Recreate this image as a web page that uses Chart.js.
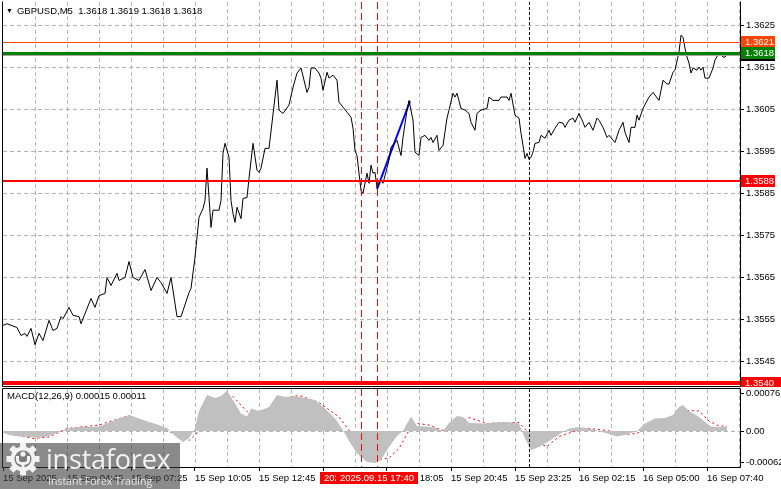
<!DOCTYPE html>
<html>
<head>
<meta charset="utf-8">
<script src="https://cdn.jsdelivr.net/npm/chart.js@4.4.1/dist/chart.umd.min.js"></script>
<style>
  body { margin: 0; background: #fff; width: 781px; height: 489px; overflow: hidden; position: relative; font-family: "Liberation Sans", Arial, sans-serif; }
  canvas { position: absolute; left: 0; }
  #main { top: 0; }
  #macd { top: 387px; }
  .label { position: absolute; font-size: 9.5px; color: #000; white-space: pre; }
  #title { left: 6px; top: 5px; }
  #title span { font-size: 7px; margin-right: 4px; vertical-align: 1px; }
  #macdTitle { left: 7px; top: 390px; }
  #logo { position: absolute; left: 0; top: 443px; width: 180px; height: 46px; background: rgba(60,60,60,0.6); color: #f2f2f2; }
  #logo .big { position: absolute; left: 46px; top: 1px; font-family: "Open Sans", sans-serif; font-size: 27px; line-height: 30px; letter-spacing: -0.2px; }
  #logo .small { position: absolute; left: 48px; top: 32px; font-family: "Open Sans", sans-serif; font-size: 10.5px; line-height: 12px; color: #e6e6e6; }
  #logo svg { position: absolute; left: 6px; top: -1px; }
</style>
</head>
<body>
<canvas id="main" width="781" height="387"></canvas>
<canvas id="macd" width="781" height="102"></canvas>
<div class="label" id="title"><span>▼</span>GBPUSD,M5  1.3618 1.3619 1.3618 1.3618</div>
<div class="label" id="macdTitle">MACD(12,26,9) 0.00015 0.00011</div>
<div id="logo">
  <svg width="34" height="34" viewBox="0 0 34 34">
    <g fill="#f2f2f2">
      <circle cx="17" cy="17" r="12.5"/>
      <rect x="14" y="0.5" width="6" height="6"/>
      <rect x="14" y="27.5" width="6" height="6"/>
      <rect x="0.5" y="14" width="6" height="6"/>
      <rect x="27.5" y="14" width="6" height="6"/>
      <g transform="rotate(45 17 17)">
        <rect x="14" y="0.5" width="6" height="6"/>
        <rect x="14" y="27.5" width="6" height="6"/>
        <rect x="0.5" y="14" width="6" height="6"/>
        <rect x="27.5" y="14" width="6" height="6"/>
      </g>
    </g>
    <circle cx="17" cy="17" r="8.5" fill="#7c7c7c"/>
    <g fill="#f2f2f2">
      <circle cx="17" cy="12" r="2.6"/>
      <path d="M10 14 h3 v4 q0 2 4 2 q4 0 4 -2 v-4 h3 v4 q0 4 -5.5 5 v9 h-3 v-9 q-5.5 -1 -5.5 -5 z"/>
    </g>
  </svg>
  <div class="big">instaforex</div>
  <div class="small">Instant Forex Trading</div>
</div>
<script>
// GBPUSD M5 close prices, x = bar number from the left edge
const priceBars = [0,2,7,9,11,12,14,16,18,20,23,25,27,29,30,33,35,38,39,44,46,48,51,52,54,57,58,61,63,65,68,71,74,77,79,82,84,87,89,90,93,94,96,98,100,101,102,103,104,105,108,109,110,111,113,114,115,116,117,119,120,122,123,125,127,128,129,131,133,137,138,140,143,145,147,149,152,153,154,156,158,159,160,162,163,165,167,168,170,172,174,175,176,177,178,179,180,182,183,184,185,186,187,189,190,193,194,197,199,200,202,203,205,206,208,209,211,213,214,215,217,218,220,222,223,225,226,227,229,231,233,234,236,237,239,242,243,245,248,249,252,253,254,256,258,259,260,261,262,263,264,265,266,268,269,271,273,274,276,278,280,281,283,285,286,288,290,291,293,295,297,298,300,302,303,306,308,310,311,313,314,316,317,318,320,323,325,328,329,330,332,333,335,336,338,339,340,341,342,343,344,345,347,348,349,350,351,353,355,356,358,359,360,361,362]
const priceClose = [1.35536,1.35540,1.35531,1.35512,1.35517,1.35510,1.35529,1.35490,1.35517,1.35500,1.35548,1.35524,1.35529,1.35557,1.35552,1.35579,1.35560,1.35557,1.35540,1.35600,1.35579,1.35607,1.35612,1.35650,1.35631,1.35660,1.35643,1.35650,1.35688,1.35650,1.35643,1.35669,1.35619,1.35650,1.35638,1.35612,1.35650,1.35557,1.35557,1.35571,1.35614,1.35624,1.35698,1.35793,1.35814,1.35833,1.35910,1.35840,1.35769,1.35810,1.35810,1.35833,1.35945,1.35969,1.35936,1.35833,1.35802,1.35781,1.35817,1.35790,1.35838,1.35840,1.35886,1.35969,1.35905,1.35900,1.35910,1.35957,1.35957,1.36119,1.36048,1.36040,1.36060,1.36102,1.36136,1.36148,1.36090,1.36102,1.36148,1.36148,1.36136,1.36124,1.36095,1.36138,1.36124,1.36131,1.36119,1.36067,1.36055,1.36043,1.36031,1.36005,1.35952,1.35940,1.35898,1.35857,1.35850,1.35898,1.35874,1.35917,1.35898,1.35900,1.35864,1.35881,1.35874,1.35929,1.35960,1.35976,1.35940,1.35983,1.36048,1.36071,1.36024,1.35948,1.35940,1.35983,1.35988,1.35976,1.35983,1.35971,1.35988,1.35952,1.35964,1.36029,1.36048,1.36088,1.36079,1.36088,1.36052,1.36048,1.36040,1.36019,1.36000,1.36040,1.36048,1.36052,1.36079,1.36071,1.36071,1.36079,1.36079,1.36071,1.36088,1.36036,1.36029,1.35993,1.35964,1.35933,1.35945,1.35931,1.35936,1.35948,1.35969,1.35971,1.35988,1.35981,1.36000,1.35988,1.36005,1.36019,1.36017,1.36007,1.36024,1.36029,1.36019,1.36040,1.36019,1.36007,1.36019,1.36000,1.36029,1.36024,1.36007,1.35983,1.35988,1.35971,1.36000,1.36019,1.35995,1.35971,1.36007,1.36007,1.36036,1.36024,1.36052,1.36079,1.36090,1.36071,1.36095,1.36119,1.36110,1.36110,1.36138,1.36143,1.36186,1.36226,1.36221,1.36195,1.36174,1.36160,1.36136,1.36148,1.36143,1.36150,1.36143,1.36150,1.36124,1.36124,1.36148,1.36167,1.36183,1.36186,1.36174,1.36174,1.36179]

// blue trend segment
const blueBars = [187, 203.5]
const blueValues = [1.35860, 1.36069]

// horizontal levels: ask, bid, support, lower level
const levelPrices = [1.3621, 1.36184, 1.3588, 1.3540]
const bidLinePrice = 1.3618

// vertical lines (bar numbers)
const redLineBars = [179, 187]
const redLineTexts = ['2025.09.15 17:00', '2025.09.15 17:40']
const blackLineBar = 263

// MACD(12,26,9): histogram and signal
const macdBars = [0,3,8,13,18,23,28,32,38,48,55,58,63,68,73,78,82,86,90,93,96,98,102,106,109,112,116,119,122,124,128,133,137,141,146,151,156,161,166,170,173,177,182,186,189,193,197,200,202,204,207,211,216,220,223,227,230,233,240,246,253,258,261,264,268,273,280,283,288,293,298,303,307,311,317,321,326,331,335,338,340,343,348,352,354,358,362]
const macdMain = [-0.00003,-0.00008,-0.00011,-0.00012,-0.00014,-0.00010,-0.00002,0.00005,0.00008,0.00009,0.00020,0.00025,0.00032,0.00025,0.00018,0.00012,0.00006,-0.00010,-0.00022,-0.00014,0.00005,0.00040,0.00072,0.00066,0.00070,0.00081,0.00055,0.00035,0.00029,0.00045,0.00040,0.00048,0.00072,0.00068,0.00070,0.00066,0.00062,0.00045,0.00025,0.00002,-0.00020,-0.00045,-0.00062,-0.00064,-0.00058,-0.00032,-0.00010,0.00000,0.00015,0.00029,0.00010,0.00009,0.00007,0.00000,0.00016,0.00030,0.00028,0.00016,0.00015,0.00017,0.00018,0.00015,-0.00015,-0.00038,-0.00032,-0.00020,-0.00002,0.00005,0.00008,0.00005,0.00000,-0.00006,-0.00011,-0.00008,0.00000,0.00015,0.00025,0.00026,0.00032,0.00048,0.00052,0.00040,0.00028,0.00015,0.00009,0.00008,0.00009]
const signalBars = [0,15,23,32,48,63,82,93,98,107,115,123,132,140,148,158,168,178,187,193,198,203,207,213,220,227,233,242,250,258,263,268,272,278,287,293,302,310,317,325,335,342,348,353,358,362]
const signalValues = [-0.00002,-0.00015,-0.00012,0.00005,0.00012,0.00031,0.00001,-0.00019,0.00000,0.00059,0.00069,0.00035,0.00041,0.00066,0.00071,0.00057,0.00028,-0.00025,-0.00058,-0.00054,-0.00035,0.00001,0.00015,0.00012,0.00001,0.00012,0.00027,0.00015,0.00017,0.00017,-0.00005,-0.00025,-0.00031,-0.00011,0.00001,0.00005,0.00001,-0.00007,-0.00005,0.00017,0.00028,0.00041,0.00040,0.00020,0.00010,0.00010]

// axis ticks
const priceTicks = [1.3545, 1.3555, 1.3565, 1.3575, 1.3585, 1.3595, 1.3605, 1.3615, 1.3625]
const macdTicks = [0.00076, 0, -0.00062]
const timeLabels = ['15 Sep 2025', '15 Sep 04:45', '15 Sep 07:25', '15 Sep 10:05', '15 Sep 12:45', '15 Sep 15:25',
  '15 Sep 18:05', '15 Sep 20:45', '15 Sep 23:25', '16 Sep 02:15', '16 Sep 05:00', '16 Sep 07:40']
const gridStep = 16

const gridColor = '#b4b4b4'
const axisFont = { family: 'Liberation Sans', size: 9.5 }
const toPoints = (xs, ys) => xs.map((x, i) => ({ x: x, y: ys[i] }))

function crisp(v, w) {
  return w % 2 ? Math.round(v) + 0.5 : Math.round(v)
}

function drawFrame(chart, withTop) {
  const { ctx, chartArea: a } = chart
  ctx.save()
  ctx.strokeStyle = '#000'
  ctx.lineWidth = 1
  ctx.beginPath()
  if (withTop) { ctx.moveTo(a.left - 0.5, a.top - 0.5); ctx.lineTo(a.right + 0.5, a.top - 0.5) }
  ctx.moveTo(a.left - 0.5, a.top - 0.5); ctx.lineTo(a.left - 0.5, a.bottom + 0.5)
  ctx.lineTo(a.right + 0.5, a.bottom + 0.5); ctx.lineTo(a.right + 0.5, a.top - 0.5)
  ctx.stroke()
  ctx.restore()
}

// time grid every 16 bars
function drawTimeGrid(chart) {
  const { ctx, chartArea: a, scales: { x } } = chart
  ctx.save()
  ctx.lineWidth = 1
  ctx.strokeStyle = gridColor
  ctx.setLineDash([4, 3])
  for (let b = gridStep; b < x.max; b += gridStep) {
    const px = crisp(x.getPixelForValue(b), 1)
    ctx.beginPath()
    ctx.moveTo(px, a.top)
    ctx.lineTo(px, a.bottom)
    ctx.stroke()
  }
  ctx.restore()
}

function drawVerticals(chart) {
  const { ctx, chartArea: a, scales: { x } } = chart
  ctx.save()
  ctx.lineWidth = 1
  ctx.strokeStyle = '#ff0000'
  ctx.setLineDash([7, 4])
  redLineBars.forEach(b => {
    const px = crisp(x.getPixelForValue(b), 1)
    ctx.beginPath(); ctx.moveTo(px, a.top); ctx.lineTo(px, a.bottom); ctx.stroke()
  })
  ctx.strokeStyle = '#000'
  ctx.setLineDash([3, 2])
  const px = crisp(x.getPixelForValue(blackLineBar), 1)
  ctx.beginPath(); ctx.moveTo(px, a.top); ctx.lineTo(px, a.bottom); ctx.stroke()
  ctx.restore()
}

const levelStyles = [
  { color: '#ff4500', width: 1, boxW: 34 },
  { color: '#008000', width: 3, boxW: 34 },
  { color: '#ff0000', width: 2, boxW: 34 },
  { color: '#ff0000', width: 4, boxW: 40 }
]

const mainOverlay = {
  id: 'mainOverlay',
  beforeDatasetsDraw(chart) {
    drawTimeGrid(chart)
  },
  afterDatasetsDraw(chart) {
    const { ctx, chartArea: a, scales: { y } } = chart
    drawVerticals(chart)
    ctx.save()
    ctx.strokeStyle = '#a8a8a8'
    ctx.lineWidth = 1
    const gy = crisp(y.getPixelForValue(bidLinePrice), 1)
    ctx.beginPath(); ctx.moveTo(a.left, gy); ctx.lineTo(a.right, gy); ctx.stroke()
    levelPrices.forEach((p, i) => {
      const s = levelStyles[i]
      const py = crisp(y.getPixelForValue(p), s.width)
      ctx.strokeStyle = s.color
      ctx.lineWidth = s.width
      ctx.beginPath(); ctx.moveTo(a.left, py); ctx.lineTo(a.right, py); ctx.stroke()
    })
    ctx.restore()
  },
  afterDraw(chart) {
    const { ctx, chartArea: a, scales: { y } } = chart
    drawFrame(chart, false)
    ctx.save()
    ctx.font = '9.5px "Liberation Sans"'
    ctx.textBaseline = 'middle'
    levelPrices.forEach((p, i) => {
      const s = levelStyles[i]
      const py = Math.round(y.getPixelForValue(p))
      ctx.fillStyle = s.color
      ctx.fillRect(a.right + 1, py - 6, s.boxW, 12)
      if (i === 1) { ctx.fillStyle = '#000'; ctx.fillRect(a.right + 1, py + 6, s.boxW, 2) }
      ctx.fillStyle = '#fff'
      ctx.fillText(p.toFixed(4), a.right + 5, py + 0.5)
    })
    ctx.restore()
  }
}

const mainChart = new Chart(document.getElementById('main'), {
  type: 'line',
  data: {
    datasets: [
      { data: toPoints(priceBars, priceClose), borderColor: '#000', borderWidth: 1, pointRadius: 0, tension: 0 },
      { data: toPoints(blueBars, blueValues), borderColor: '#0000ff', borderWidth: 2, pointRadius: 0 }
    ]
  },
  options: {
    responsive: false,
    animation: false,
    events: [],
    layout: { padding: { left: 3, top: 2, right: 0, bottom: 1 } },
    plugins: { legend: { display: false }, tooltip: { enabled: false } },
    scales: {
      x: {
        type: 'linear', min: 0, max: 368.5,
        afterFit: s => { s.height = 0; s.paddingLeft = 0; s.paddingRight = 0 },
        ticks: { display: false },
        grid: { display: false },
        border: { display: false }
      },
      y: {
        position: 'right', min: 1.35392, max: 1.36305,
        afterBuildTicks: s => { s.ticks = priceTicks.map(v => ({ value: v })) },
        afterFit: s => { s.width = 41; s.paddingTop = 0; s.paddingBottom = 0 },
        ticks: { color: '#000', font: axisFont, padding: 2, callback: v => v.toFixed(4) },
        grid: { color: gridColor, tickColor: '#000', tickLength: 4 },
        border: { display: false, dash: [4, 3] }
      }
    }
  },
  plugins: [mainOverlay]
})

const macdOverlay = {
  id: 'macdOverlay',
  beforeDatasetsDraw(chart) {
    drawTimeGrid(chart)
  },
  afterDatasetsDraw(chart) {
    drawVerticals(chart)
  },
  afterDraw(chart) {
    const { ctx, chartArea: a, scales: { x } } = chart
    drawFrame(chart, true)
    ctx.save()
    ctx.font = '9.5px "Liberation Sans"'
    ctx.textBaseline = 'middle'
    redLineBars.forEach((b, i) => {
      const px = x.getPixelForValue(b)
      const w = ctx.measureText(redLineTexts[i]).width + 8
      ctx.fillStyle = '#ff0000'
      ctx.fillRect(Math.round(px - w / 2), a.bottom + 5, Math.round(w), 12)
      ctx.fillStyle = '#fff'
      ctx.fillText(redLineTexts[i], Math.round(px - w / 2) + 4, a.bottom + 11.5)
    })
    ctx.restore()
  }
}

const macdChart = new Chart(document.getElementById('macd'), {
  type: 'line',
  data: {
    datasets: [
      { data: toPoints(macdBars, macdMain), borderWidth: 0, borderColor: 'transparent', backgroundColor: '#c0c0c0', fill: 'origin', pointRadius: 0, tension: 0 },
      { data: toPoints(signalBars, signalValues), borderColor: '#ff0000', borderWidth: 1, borderDash: [2, 3], pointRadius: 0, tension: 0 }
    ]
  },
  options: {
    responsive: false,
    animation: false,
    events: [],
    layout: { padding: { left: 3, top: 2, right: 0, bottom: 0 } },
    plugins: { legend: { display: false }, tooltip: { enabled: false } },
    scales: {
      x: {
        type: 'linear', min: 0, max: 368.5,
        afterBuildTicks: s => { s.ticks = timeLabels.map((t, i) => ({ value: i * 32 })) },
        afterFit: s => { s.height = 22; s.paddingLeft = 0; s.paddingRight = 0 },
        ticks: {
          autoSkip: false, maxRotation: 0, align: 'start', color: '#000', font: axisFont, padding: 2,
          callback: v => timeLabels[v / 32]
        },
        grid: { drawOnChartArea: false, color: '#000', tickColor: '#000', tickLength: 4 },
        border: { display: false }
      },
      y: {
        position: 'right', min: -0.00072, max: 0.00084,
        afterBuildTicks: s => { s.ticks = macdTicks.map(v => ({ value: v })) },
        afterFit: s => { s.width = 41; s.paddingTop = 0; s.paddingBottom = 0 },
        ticks: { color: '#000', font: axisFont, padding: 2, callback: v => (v === 0 ? '0.00' : v.toFixed(5)) },
        grid: { color: c => (c.tick && c.tick.value === 0 ? gridColor : 'transparent'), tickColor: '#000', tickLength: 4 },
        border: { display: false, dash: [4, 3] }
      }
    }
  },
  plugins: [macdOverlay]
})
</script>
</body>
</html>
